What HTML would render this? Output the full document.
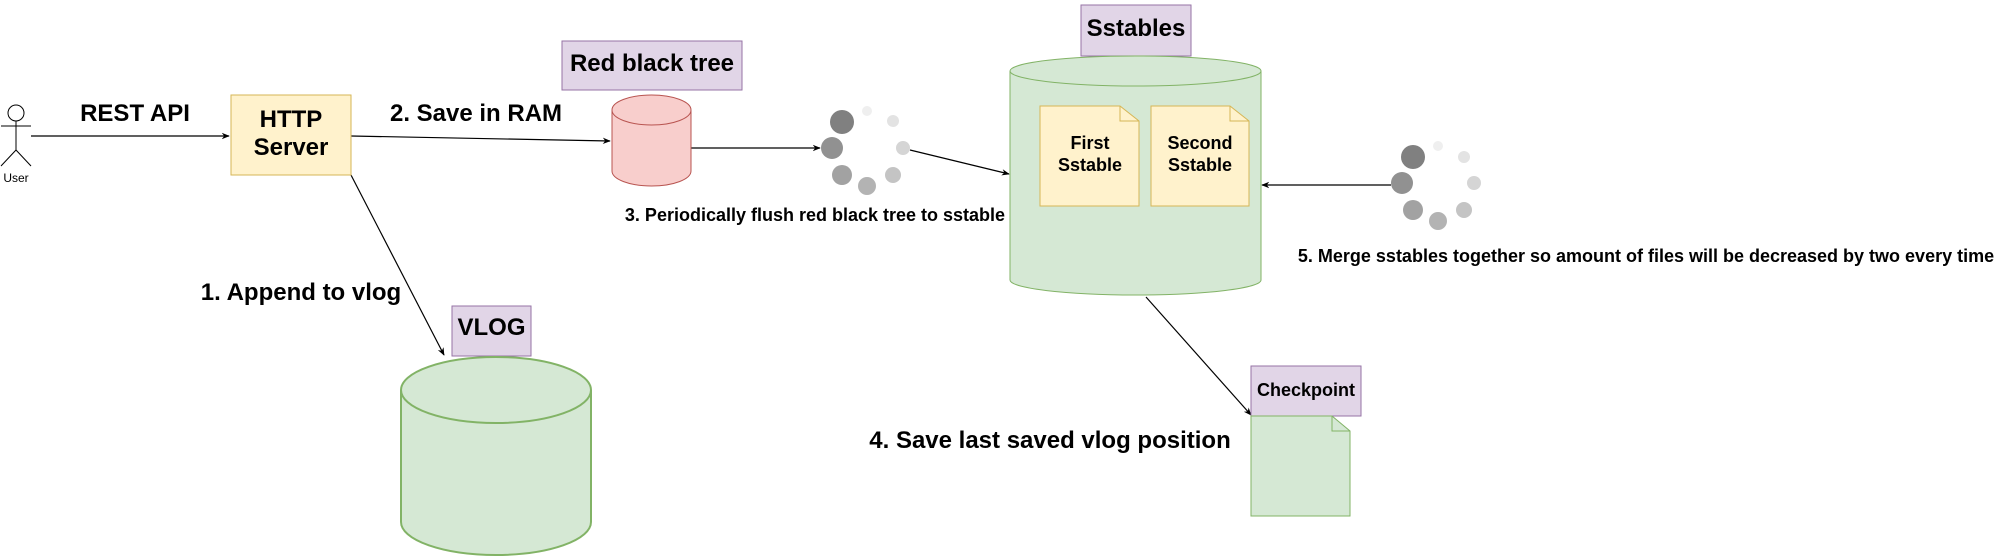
<!DOCTYPE html>
<html><head><meta charset="utf-8"><style>
html,body{margin:0;padding:0;background:#fff;}
svg{display:block;font-family:"Liberation Sans",Arial,sans-serif;font-weight:bold;}
</style></head><body>
<svg width="2001" height="557" viewBox="0 0 2001 557" xmlns="http://www.w3.org/2000/svg">
<defs>
<marker id="ah" viewBox="0 0 10 10" refX="9" refY="5" markerWidth="8" markerHeight="8" orient="auto" markerUnits="userSpaceOnUse">
<path d="M0,1 L10,5 L0,9 L3,5 Z" fill="#000"/>
</marker>
</defs>
<!-- User -->
<g stroke="#000" fill="none" stroke-width="1">
<ellipse cx="16" cy="113" rx="8" ry="8" fill="#fff"/>
<line x1="16" y1="121" x2="16" y2="150"/>
<line x1="1" y1="126" x2="31" y2="126"/>
<line x1="16" y1="150" x2="1" y2="166"/>
<line x1="16" y1="150" x2="31" y2="166"/>
</g>
<text x="16" y="182" font-size="12" font-weight="normal" text-anchor="middle">User</text>

<!-- arrows -->
<g stroke="#000" stroke-width="1.2" fill="none">
<line x1="31" y1="136" x2="229" y2="136" marker-end="url(#ah)"/>
<line x1="351" y1="136" x2="610" y2="141" marker-end="url(#ah)"/>
<line x1="691" y1="148" x2="820" y2="148" marker-end="url(#ah)"/>
<line x1="910" y1="150" x2="1009" y2="174" marker-end="url(#ah)"/>
<line x1="351" y1="175" x2="444" y2="355" marker-end="url(#ah)"/>
<line x1="1391" y1="185" x2="1262" y2="185" marker-end="url(#ah)"/>
<line x1="1146" y1="297" x2="1251" y2="415" marker-end="url(#ah)"/>
</g>

<text x="135" y="121" font-size="24" text-anchor="middle">REST API</text>

<!-- HTTP server -->
<rect x="231" y="95" width="120" height="80" fill="#fff2cc" stroke="#d6b656"/>
<text x="291" y="127" font-size="24" text-anchor="middle">HTTP</text>
<text x="291" y="155" font-size="24" text-anchor="middle">Server</text>

<text x="476" y="121" font-size="24" text-anchor="middle">2. Save in RAM</text>

<!-- Red black tree label -->
<rect x="562" y="41" width="180" height="49" fill="#e1d5e7" stroke="#9673a6"/>
<text x="652" y="71" font-size="24" text-anchor="middle">Red black tree</text>

<!-- red cylinder -->
<path d="M612,110 L612,171 A39.5,15 0 0 0 691,171 L691,110" fill="#f8cecc" stroke="#b85450"/>
<ellipse cx="651.5" cy="110" rx="39.5" ry="15" fill="#f8cecc" stroke="#b85450"/>

<!-- spinner 1 -->
<g>
<circle cx="842" cy="122" r="12" fill="#808080"/>
<circle cx="832" cy="148" r="11" fill="#919191"/>
<circle cx="842" cy="175" r="10" fill="#a2a2a2"/>
<circle cx="867" cy="186" r="9" fill="#b3b3b3"/>
<circle cx="893" cy="175" r="8" fill="#c4c4c4"/>
<circle cx="903" cy="148" r="7" fill="#d5d5d5"/>
<circle cx="893" cy="121" r="6" fill="#e3e3e3"/>
<circle cx="867" cy="111" r="5" fill="#efefef"/>
</g>
<text x="815" y="221" font-size="18" text-anchor="middle">3. Periodically flush red black tree to sstable</text>

<text x="301" y="300" font-size="24" text-anchor="middle">1. Append to vlog</text>

<!-- VLOG -->
<rect x="452" y="306" width="79" height="50" fill="#e1d5e7" stroke="#9673a6"/>
<text x="491.5" y="335" font-size="24" text-anchor="middle">VLOG</text>
<path d="M401,390 L401,522 A95,33 0 0 0 591,522 L591,390" fill="#d5e8d4" stroke="#82b366" stroke-width="2"/>
<ellipse cx="496" cy="390" rx="95" ry="33" fill="#d5e8d4" stroke="#82b366" stroke-width="2"/>

<text x="1050" y="448" font-size="24" text-anchor="middle">4. Save last saved vlog position</text>

<!-- Sstables -->
<rect x="1081" y="5" width="110" height="51" fill="#e1d5e7" stroke="#9673a6"/>
<text x="1136" y="36" font-size="24" text-anchor="middle">Sstables</text>
<path d="M1010,71 L1010,280 A125.5,15 0 0 0 1261,280 L1261,71" fill="#d5e8d4" stroke="#82b366"/>
<ellipse cx="1135.5" cy="71" rx="125.5" ry="15" fill="#d5e8d4" stroke="#82b366"/>

<path d="M1040,106 L1120,106 L1139,121 L1139,206 L1040,206 Z" fill="#fff2cc" stroke="#d6b656"/>
<path d="M1120,106 L1120,121 L1139,121" fill="none" stroke="#d6b656"/>
<text x="1090" y="149" font-size="18" text-anchor="middle">First</text>
<text x="1090" y="171" font-size="18" text-anchor="middle">Sstable</text>

<path d="M1151,106 L1230,106 L1249,121 L1249,206 L1151,206 Z" fill="#fff2cc" stroke="#d6b656"/>
<path d="M1230,106 L1230,121 L1249,121" fill="none" stroke="#d6b656"/>
<text x="1200" y="149" font-size="18" text-anchor="middle">Second</text>
<text x="1200" y="171" font-size="18" text-anchor="middle">Sstable</text>

<!-- spinner 2 -->
<g>
<circle cx="1413" cy="157" r="12" fill="#808080"/>
<circle cx="1402" cy="183" r="11" fill="#919191"/>
<circle cx="1413" cy="210" r="10" fill="#a2a2a2"/>
<circle cx="1438" cy="221" r="9" fill="#b3b3b3"/>
<circle cx="1464" cy="210" r="8" fill="#c4c4c4"/>
<circle cx="1474" cy="183" r="7" fill="#d5d5d5"/>
<circle cx="1464" cy="157" r="6" fill="#e3e3e3"/>
<circle cx="1438" cy="146" r="5" fill="#efefef"/>
</g>
<text x="1646" y="262" font-size="18" text-anchor="middle">5. Merge sstables together so amount of files will be decreased by two every time</text>

<!-- Checkpoint -->
<rect x="1251" y="366" width="110" height="50" fill="#e1d5e7" stroke="#9673a6"/>
<text x="1306" y="396" font-size="18" text-anchor="middle">Checkpoint</text>
<path d="M1251,416 L1332,416 L1350,431 L1350,516 L1251,516 Z" fill="#d5e8d4" stroke="#82b366"/>
<path d="M1332,416 L1332,431 L1350,431" fill="none" stroke="#82b366"/>
</svg>
</body></html>
